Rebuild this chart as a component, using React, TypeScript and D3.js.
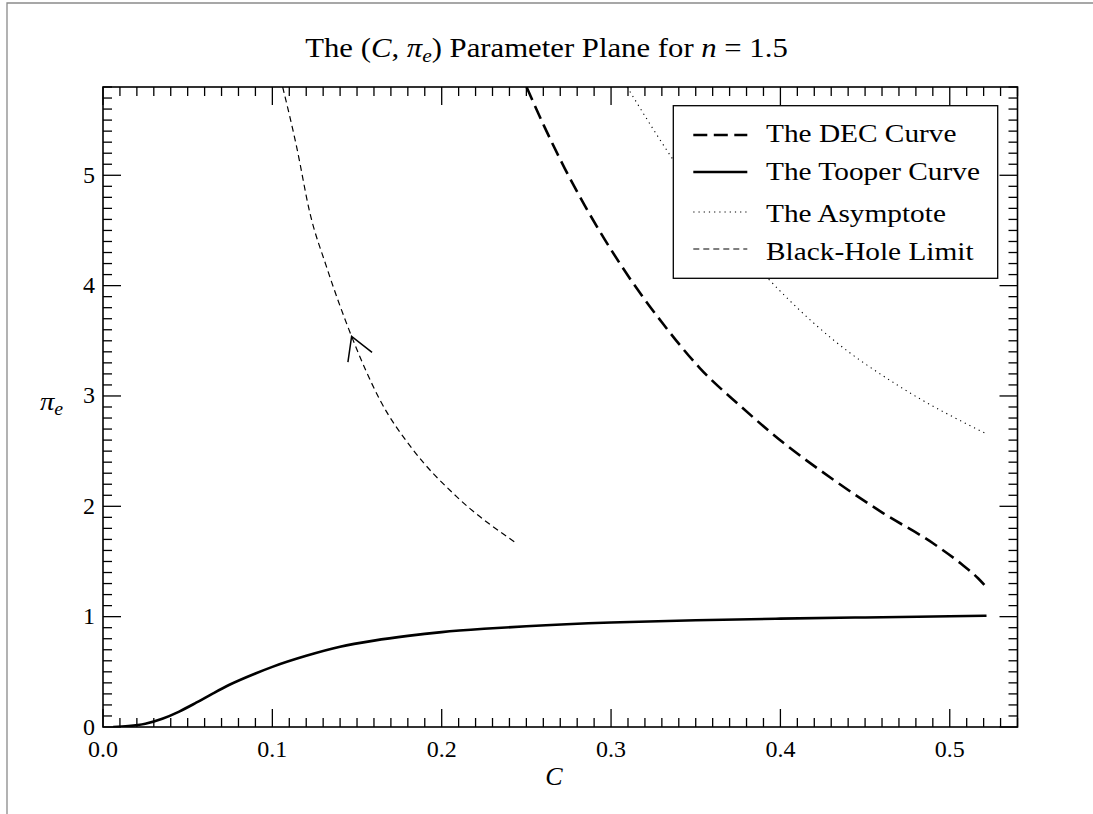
import React from 'react';
import * as d3 from 'd3';

// Tooper curve (solid)
const tooperC = [0.006, 0.015, 0.025, 0.035, 0.045, 0.055, 0.065, 0.075, 0.09, 0.1, 0.12, 0.14, 0.16, 0.18, 0.2, 0.225, 0.25, 0.3, 0.35, 0.4, 0.45, 0.5, 0.5217];
const tooperPi = [0, 0.008, 0.03, 0.075, 0.14, 0.22, 0.305, 0.385, 0.485, 0.545, 0.645, 0.727, 0.783, 0.826, 0.86, 0.89, 0.913, 0.947, 0.968, 0.982, 0.993, 1.003, 1.008];

// DEC curve (thick dashed)
const decC = [0.2501, 0.2609, 0.2727, 0.2845, 0.2963, 0.3111, 0.3308, 0.3524, 0.376, 0.4016, 0.4311, 0.4606, 0.4901, 0.5069, 0.5167, 0.5217];
const decPi = [5.8, 5.432, 5.061, 4.725, 4.417, 4.065, 3.652, 3.253, 2.914, 2.578, 2.243, 1.939, 1.665, 1.477, 1.348, 1.266];

// Asymptote (dotted)
const asymC = [0.3095, 0.3367, 0.365, 0.3926, 0.4311, 0.4705, 0.5217];
const asymPi = [5.8, 5.14, 4.55, 4.066, 3.51, 3.085, 2.656];

// Black-hole limit (thin dashed)
const bhC = [0.1061, 0.1143, 0.1222, 0.132, 0.1468, 0.1635, 0.1832, 0.2088, 0.2442];
const bhPi = [5.8, 5.26, 4.657, 4.17, 3.54, 2.965, 2.51, 2.088, 1.665];

// Arrow on the black-hole limit, pointing towards increasing pi_e
const arrowC = 0.1468;
const arrowPi = 3.54;

const xTicks = [0, 0.1, 0.2, 0.3, 0.4, 0.5];
const xTickLabels = ['0.0', '0.1', '0.2', '0.3', '0.4', '0.5'];
const yTicks = [0, 1, 2, 3, 4, 5];
const yTickLabels = ['0', '1', '2', '3', '4', '5'];
const legendLabels = ['The DEC Curve', 'The Tooper Curve', 'The Asymptote', 'Black-Hole Limit'];

const W = 1093;
const H = 814;
const FONT = '"Liberation Serif", "Times New Roman", serif';

const x = d3.scaleLinear().domain([0, 0.54]).range([103, 1017.5]);
const y = d3.scaleLinear().domain([0, 5.8]).range([727, 87]);

const toPoints = (cs: number[], ps: number[]) => cs.map((c, i) => [c, ps[i]] as [number, number]);

const line = d3
  .line<[number, number]>()
  .x((d) => x(d[0]))
  .y((d) => y(d[1]))
  .curve(d3.curveMonotoneX);

const minorX = d3.range(0, 55).map((i) => i / 100);
const minorY = d3.range(0, 59).map((i) => i / 10);

const MAJOR = 18;
const MINOR = 9;

type TxtProps = {
  x: number;
  y: number;
  sx?: number;
  size: number;
  anchor?: 'start' | 'middle' | 'end';
  children: React.ReactNode;
};

const Txt = ({ x: tx, y: ty, sx = 1, size, anchor = 'start', children }: TxtProps) => (
  <g transform={`translate(${tx},${ty}) scale(${sx},1)`}>
    <text textAnchor={anchor} fontSize={size} fontFamily={FONT} fill="#000">
      {children}
    </text>
  </g>
);

function Arrow() {
  // tangent from neighbouring samples of the black-hole curve
  const i = bhC.indexOf(arrowC);
  const ax = x(arrowC);
  const ay = y(arrowPi);
  const bx = x(bhC[i + 1]) - x(bhC[i - 1]);
  const by = y(bhPi[i + 1]) - y(bhPi[i - 1]);
  const len = Math.hypot(bx, by);
  const ux = bx / len;
  const uy = by / len;
  const a = (Math.PI / 180) * 30;
  const L = 26;
  const rot = (s: number) => [ux * Math.cos(s * a) - uy * Math.sin(s * a), ux * Math.sin(s * a) + uy * Math.cos(s * a)];
  const [p1x, p1y] = rot(1);
  const [p2x, p2y] = rot(-1);
  const d = `M${ax + p1x * L},${ay + p1y * L}L${ax},${ay}L${ax + p2x * L},${ay + p2y * L}`;
  return <path d={d} fill="none" stroke="#000" strokeWidth={1.5} strokeLinejoin="miter" />;
}

export default function App() {
  const [x0, x1] = x.range();
  const [y0, y1] = y.range(); // y0 bottom, y1 top

  const styles = [
    { width: 2.6, dash: '14 6.5' },
    { width: 2.6, dash: undefined },
    { width: 1.1, dash: '1.2 4' },
    { width: 1.2, dash: '6 4' },
  ];
  const legendSampleY = [135, 172, 212, 249];
  const legendTextY = [142, 180, 221.5, 259.5];

  return (
    <svg
      width={W}
      height={H}
      viewBox={`0 0 ${W} ${H}`}
      style={{ position: 'absolute', left: 0, top: 0, display: 'block', background: '#fff' }}
    >
      <rect x={0} y={0} width={W} height={H} fill="#fff" />
      {/* figure frame */}
      <path d={`M7,${H} V3 H${W}`} fill="none" stroke="#8a8a8a" strokeWidth={1.3} />

      <defs>
        <clipPath id="plot-clip">
          <rect x={x0} y={y1} width={x1 - x0} height={y0 - y1} />
        </clipPath>
      </defs>

      {/* title */}
      <Txt x={546.5} y={57} size={26.5} sx={1.16} anchor="middle">
        The (<tspan fontStyle="italic">C</tspan>, <tspan fontStyle="italic">π</tspan>
        <tspan fontStyle="italic" fontSize={18.5} dy={5}>e</tspan>
        <tspan dy={-5}>) Parameter Plane for </tspan>
        <tspan fontStyle="italic">n</tspan> = 1.5
      </Txt>

      {/* curves */}
      <g clipPath="url(#plot-clip)" fill="none" stroke="#000" strokeLinecap="butt">
        <path d={line(toPoints(asymC, asymPi)) || ''} strokeWidth={styles[2].width} strokeDasharray={styles[2].dash} />
        <path d={line(toPoints(bhC, bhPi)) || ''} strokeWidth={styles[3].width} strokeDasharray={styles[3].dash} />
        <path d={line(toPoints(decC, decPi)) || ''} strokeWidth={styles[0].width} strokeDasharray={styles[0].dash} />
        <path d={line(toPoints(tooperC, tooperPi)) || ''} strokeWidth={styles[1].width} />
      </g>
      <Arrow />

      {/* ticks */}
      <g stroke="#000" strokeWidth={1.3}>
        {minorX.map((v) => {
          const major = xTicks.some((t) => Math.abs(t - v) < 1e-9);
          const l = major ? MAJOR : MINOR;
          return (
            <g key={`x${v}`}>
              <line x1={x(v)} x2={x(v)} y1={y0} y2={y0 - l} />
              <line x1={x(v)} x2={x(v)} y1={y1} y2={y1 + l} />
            </g>
          );
        })}
        {minorY.map((v) => {
          const major = yTicks.some((t) => Math.abs(t - v) < 1e-9);
          const l = major ? MAJOR : MINOR;
          return (
            <g key={`y${v}`}>
              <line x1={x0} x2={x0 + l} y1={y(v)} y2={y(v)} />
              <line x1={x1} x2={x1 - l} y1={y(v)} y2={y(v)} />
            </g>
          );
        })}
      </g>

      {/* axes frame */}
      <rect x={x0} y={y1} width={x1 - x0} height={y0 - y1} fill="none" stroke="#000" strokeWidth={1.6} />

      {/* tick labels */}
      {xTicks.map((t, i) => (
        <Txt key={`xl${t}`} x={x(t)} y={757} size={24} anchor="middle">
          {xTickLabels[i]}
        </Txt>
      ))}
      {yTicks.map((t, i) => (
        <Txt key={`yl${t}`} x={95} y={y(t) + 7.5} size={24} anchor="end">
          {yTickLabels[i]}
        </Txt>
      ))}

      {/* axis labels */}
      <Txt x={554} y={785} size={26} anchor="middle">
        <tspan fontStyle="italic">C</tspan>
      </Txt>
      <Txt x={40} y={410} size={26} sx={1.1}>
        <tspan fontStyle="italic">π</tspan>
        <tspan fontStyle="italic" fontSize={18} dy={5}>e</tspan>
      </Txt>

      {/* legend */}
      <rect x={673.3} y={105.7} width={324.4} height={172.6} fill="#fff" stroke="#000" strokeWidth={1.3} />
      {legendLabels.map((lab, i) => (
        <g key={lab}>
          <line
            x1={693.3}
            x2={747.3}
            y1={legendSampleY[i]}
            y2={legendSampleY[i]}
            stroke="#000"
            strokeWidth={styles[i].width}
            strokeDasharray={styles[i].dash}
          />
          <Txt x={766} y={legendTextY[i]} size={25.5} sx={1.15}>
            {lab}
          </Txt>
        </g>
      ))}
    </svg>
  );
}
